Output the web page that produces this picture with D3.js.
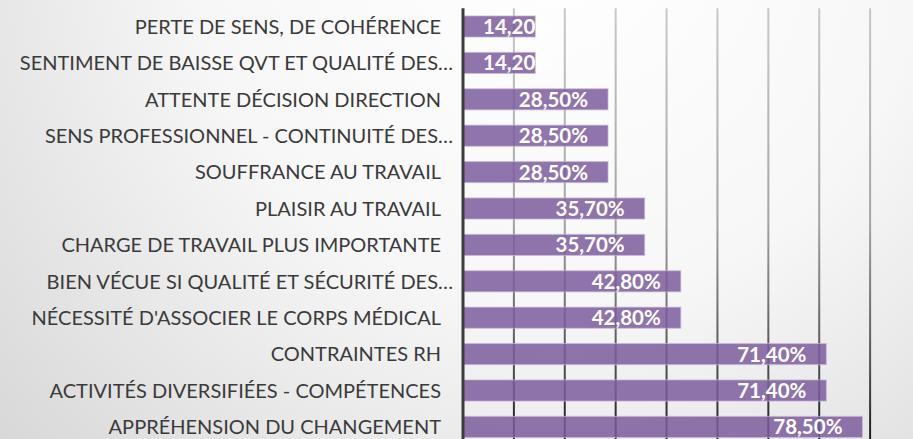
<!DOCTYPE html>
<html>
<head>
<meta charset="utf-8">
<script src="https://cdn.jsdelivr.net/npm/d3@7"></script>
<style>
  html, body { margin: 0; padding: 0; overflow: hidden; }
  svg { display: block; }
  .cat-label { font-family: Lato, "Open Sans", sans-serif; fill: #3a3a3a; }
  .val-label { font-family: Lato, "Open Sans", sans-serif; font-weight: bold; fill: #ffffff; }
</style>
</head>
<body>
<svg id="chart"></svg>
<script>
// chart data, top to bottom
const categories = [
    "PERTE DE SENS, DE COHÉRENCE",
    "SENTIMENT DE BAISSE QVT ET QUALITÉ DES…",
    "ATTENTE DÉCISION DIRECTION",
    "SENS PROFESSIONNEL - CONTINUITÉ DES…",
    "SOUFFRANCE AU TRAVAIL",
    "PLAISIR AU TRAVAIL",
    "CHARGE DE TRAVAIL PLUS IMPORTANTE",
    "BIEN VÉCUE SI QUALITÉ ET SÉCURITÉ DES…",
    "NÉCESSITÉ D'ASSOCIER LE CORPS MÉDICAL",
    "CONTRAINTES RH",
    "ACTIVITÉS DIVERSIFIÉES - COMPÉTENCES",
    "APPRÉHENSION DU CHANGEMENT"
];
const values = [0.142, 0.142, 0.285, 0.285, 0.285, 0.357, 0.357, 0.428, 0.428, 0.714, 0.714, 0.785];
const gridTicks = [0.1, 0.2, 0.3, 0.4, 0.5, 0.6, 0.7, 0.8, 0.9];

const width = 913;
const height = 439;
const plot = {left: 463, top: 8.3, right: 921, bottom: 445.1};

const data = categories.map((c, i) => ({name: c, value: values[i]}));
const fmt = v => (v * 100).toFixed(2).replace(".", ",") + "%";

const svg = d3.select("#chart")
    .attr("width", width)
    .attr("height", height);

const defs = svg.append("defs");

// background: white near the top, grey towards the bottom corners
const bg = defs.append("radialGradient")
    .attr("id", "bg")
    .attr("gradientUnits", "userSpaceOnUse")
    .attr("cx", 560).attr("cy", -60).attr("r", 800);
bg.append("stop").attr("offset", 0).attr("stop-color", "#ffffff");
bg.append("stop").attr("offset", 0.45).attr("stop-color", "#f7f7f7");
bg.append("stop").attr("offset", 1).attr("stop-color", "#d4d4d4");

// gridlines fade from light grey (top) to near black (bottom)
const gg = defs.append("linearGradient")
    .attr("id", "grid")
    .attr("gradientUnits", "userSpaceOnUse")
    .attr("x1", 0).attr("y1", plot.top).attr("x2", 0).attr("y2", height);
gg.append("stop").attr("offset", 0).attr("stop-color", "#c8c8c8");
gg.append("stop").attr("offset", 0.5).attr("stop-color", "#a2a2a2");
gg.append("stop").attr("offset", 0.85).attr("stop-color", "#4a4a4a");
gg.append("stop").attr("offset", 1).attr("stop-color", "#1e1e1e");

svg.append("rect")
    .attr("width", width)
    .attr("height", height)
    .attr("fill", "url(#bg)");

const x = d3.scaleLinear()
    .domain([0, 0.9])
    .range([plot.left, plot.right]);

const y = d3.scaleBand()
    .domain(categories)
    .range([plot.top, plot.bottom])
    .paddingInner(0.42)
    .paddingOuter(0.21);

// vertical gridlines
svg.append("g")
    .selectAll("line")
    .data(gridTicks)
    .join("line")
    .attr("x1", d => x(d))
    .attr("x2", d => x(d))
    .attr("y1", plot.top)
    .attr("y2", height)
    .attr("stroke", "url(#grid)")
    .attr("stroke-width", 2);

// bars (slightly see-through so gridlines show)
svg.append("g")
    .selectAll("rect")
    .data(data)
    .join("rect")
    .attr("x", x(0))
    .attr("y", d => y(d.name))
    .attr("width", d => x(d.value) - x(0))
    .attr("height", y.bandwidth())
    .attr("fill", "#7b5d9e")
    .attr("fill-opacity", 0.85)
    .attr("stroke", "#c9b9dc")
    .attr("stroke-opacity", 0.7)
    .attr("stroke-width", 1);

// vertical axis line
svg.append("line")
    .attr("x1", x(0)).attr("x2", x(0))
    .attr("y1", plot.top).attr("y2", height)
    .attr("stroke", "#3c3c3c")
    .attr("stroke-width", 3);

// category labels
svg.append("g")
    .selectAll("text")
    .data(data)
    .join("text")
    .classed("cat-label", true)
    .attr("x", d => d.name.endsWith("…") ? 453 : 441)
    .attr("y", d => y(d.name) + y.bandwidth() / 2)
    .attr("dy", "0.36em")
    .attr("text-anchor", "end")
    .attr("font-size", 20)
    .text(d => d.name);

// value labels, inside end but never left of the axis padding
svg.append("g")
    .selectAll("text")
    .data(data)
    .join("text")
    .classed("val-label", true)
    .attr("y", d => y(d.name) + y.bandwidth() / 2)
    .attr("dy", "0.37em")
    .attr("text-anchor", "end")
    .attr("font-size", 20.5)
    .text(d => fmt(d.value))
    .attr("x", function(d) {
        const w = this.getComputedTextLength();
        return Math.max(x(d.value) - 20, x(0) + 20 + w);
    });
</script>
</body>
</html>
